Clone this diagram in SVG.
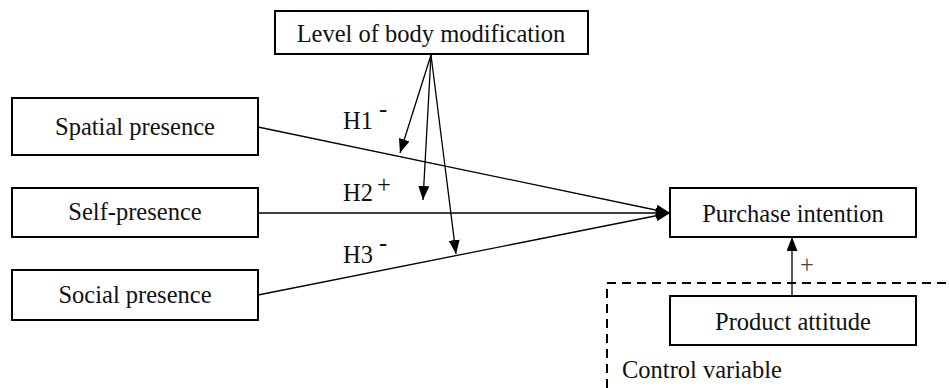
<svg xmlns="http://www.w3.org/2000/svg" width="949" height="388" viewBox="0 0 949 388">
<defs>
<style>
.box{fill:#fff;stroke:#000;stroke-width:2}
.t{font-family:"Liberation Serif","Times New Roman",serif;font-size:24.5px;fill:#111}
.c{text-anchor:middle}
.ln{stroke:#000;stroke-width:1.3;fill:none}
</style>
<marker id="ah" viewBox="0 0 14 11" refX="14" refY="5.5" markerWidth="14" markerHeight="11" markerUnits="userSpaceOnUse" orient="auto">
<path d="M0,0 L14,5.5 L0,11 Z" fill="#000"/>
</marker>
</defs>
<rect width="949" height="388" fill="#fff"/>
<g id="control-area">
<path d="M607,388 L607,283 L949,283" fill="none" stroke="#000" stroke-width="2" stroke-dasharray="9,6"/>
<text class="t" x="622" y="378">Control variable</text>
</g>
<g id="connectors">
<line class="ln" x1="258" y1="127" x2="670" y2="213" marker-end="url(#ah)"/>
<line class="ln" x1="258" y1="213" x2="670" y2="213" marker-end="url(#ah)"/>
<line class="ln" x1="258" y1="295" x2="670" y2="213" marker-end="url(#ah)"/>
<line class="ln" x1="431" y1="55" x2="400" y2="153" marker-end="url(#ah)"/>
<line class="ln" x1="431" y1="55" x2="423" y2="200" marker-end="url(#ah)"/>
<line class="ln" x1="431" y1="55" x2="456" y2="254" marker-end="url(#ah)"/>
<line class="ln" x1="792" y1="296" x2="792" y2="237" marker-end="url(#ah)"/>
<text class="t" x="343" y="129">H1</text>
<text class="t" x="379" y="117">-</text>
<text class="t" x="343" y="201">H2</text>
<text class="t" x="377" y="193">+</text>
<text class="t" x="343" y="263">H3</text>
<text class="t" x="379" y="251">-</text>
<text class="t" x="800" y="273" style="fill:#444">+</text>
</g>
<g id="level-of-body-modification">
<rect class="box" x="275" y="11" width="313" height="43"/>
<text class="t c" x="431" y="42">Level of body modification</text>
</g>
<g id="spatial-presence">
<rect class="box" x="12" y="98" width="246" height="57"/>
<text class="t c" x="135" y="135">Spatial presence</text>
</g>
<g id="self-presence">
<rect class="box" x="12" y="188" width="246" height="49"/>
<text class="t c" x="135" y="220">Self-presence</text>
</g>
<g id="social-presence">
<rect class="box" x="12" y="270" width="246" height="50"/>
<text class="t c" x="135" y="303">Social presence</text>
</g>
<g id="purchase-intention">
<rect class="box" x="670" y="188" width="246" height="49"/>
<text class="t c" x="793" y="222">Purchase intention</text>
</g>
<g id="product-attitude">
<rect class="box" x="670" y="296" width="246" height="49"/>
<text class="t c" x="793" y="330">Product attitude</text>
</g>
</svg>
